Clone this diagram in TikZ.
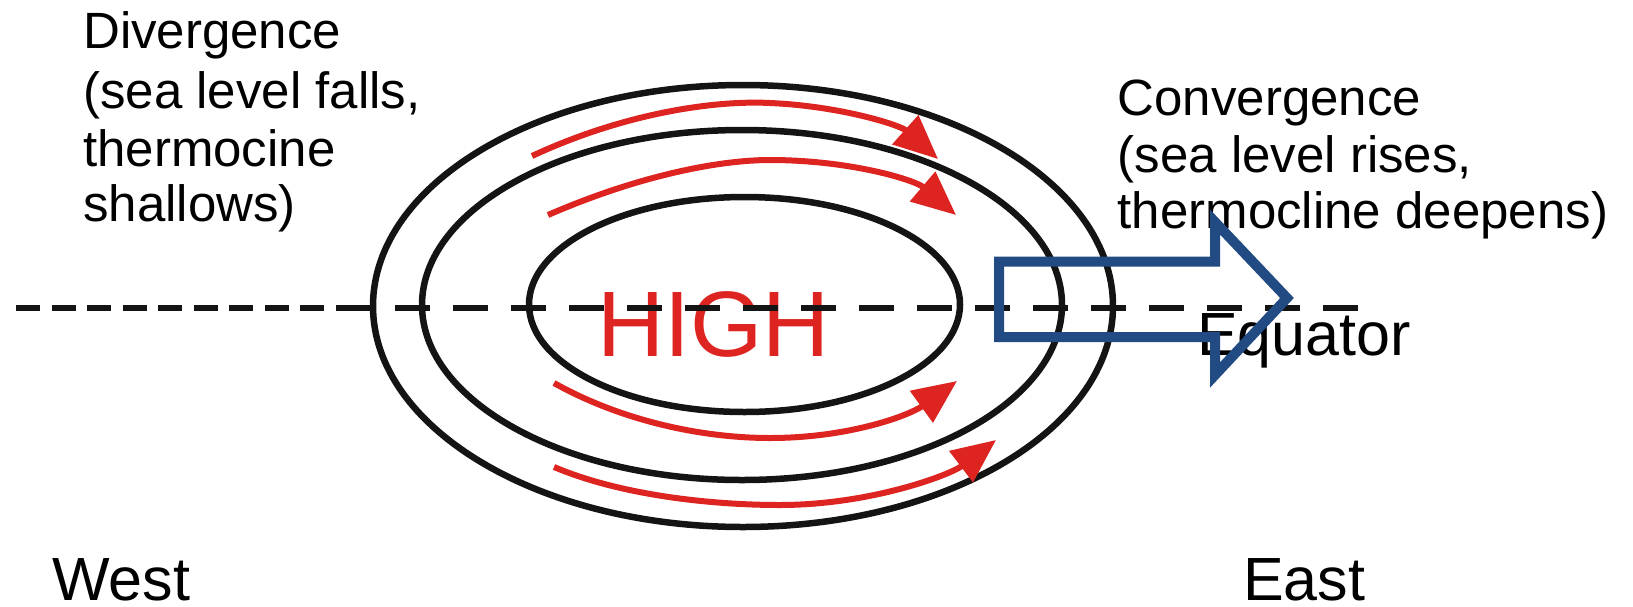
\documentclass[tikz,border=0pt]{standalone}
\usepackage{fontspec}
\setmainfont{Liberation Sans}
\usetikzlibrary{arrows.meta}
\definecolor{hired}{RGB}{221,36,33}
\definecolor{arrblue}{RGB}{33,75,130}
\begin{document}
\begin{tikzpicture}[x=1pt,y=-1pt,
  ring/.style={draw=black!92, line width=6.5pt},
  eqline/.style={draw=black!92, line width=6.5pt},
  flow/.style={draw=hired, line width=6pt, -{Triangle[length=44pt,width=38pt]}},
  lbl/.style={inner sep=0pt, anchor=base west, font=\fontsize{51}{60}\selectfont},
  biglbl/.style={inner sep=0pt, anchor=base west, font=\fontsize{61}{70}\selectfont},
  highlbl/.style={inner sep=0pt, anchor=base, text=hired, font=\fontsize{93}{100}\selectfont},
  bigarrow/.style={draw=arrblue, line width=10pt, miter limit=20, line join=miter}
]
\useasboundingbox (0,0) rectangle (1633,606);

% ellipses
\draw[ring] (743,306) ellipse [x radius=370pt, y radius=221pt];
\draw[ring] (742,305) ellipse [x radius=320pt, y radius=175pt];
\draw[ring] (744.5,304.5) ellipse [x radius=215.5pt, y radius=107.5pt];

% red flow arrows
\draw[flow] (532,156) .. controls (620,115) and (710,100) .. (770,103) .. controls (840,106) and (900,125) .. (938,159);
\draw[flow] (548,215) .. controls (640,175) and (720,160) .. (770,160) .. controls (850,160) and (915,180) .. (956,215);
\draw[flow] (554,383) .. controls (620,420) and (700,438) .. (770,438) .. controls (850,438) and (910,415) .. (957,381);
\draw[flow] (554,467) .. controls (620,495) and (710,505) .. (780,505) .. controls (870,505) and (950,475) .. (996,440);

% HIGH
\node[highlbl] (high) at (713.5,356) {HIGH};

% equator line
\coordinate (eqa) at (16,308);
\coordinate (eqb) at (337,308);
\coordinate (eqc) at (1359,308);
\draw[eqline, dash pattern=on 24pt off 11.5pt] (eqa) -- (eqb);
\draw[eqline, dash pattern=on 35pt off 23pt] (eqb) -- (eqc);

% labels
\node[lbl] (div1) at (83,48) {Divergence};
\node[lbl] (div2) at (83,108) {(sea level falls,};
\node[lbl] (div3) at (83,166) {thermocine};
\node[lbl] (div4) at (83,221) {shallows)};

\node[lbl] (con1) at (1117.5,115) {Convergence};
\node[lbl] (con2) at (1117.5,172) {(sea level rises,};
\node[lbl] (con3) at (1117.5,228) {thermocline deepens)};

\node[biglbl] (equator) at (1197,355) {Equator};
\node[biglbl] (west) at (52,600) {West};
\node[biglbl] (east) at (1243,600) {East};

% blue outline arrow
\draw[bigarrow] (999,261.5) -- (1215,261.5) -- (1215,222) -- (1287,298) -- (1215,375) -- (1215,337) -- (999,337) -- cycle;
\end{tikzpicture}
\end{document}
